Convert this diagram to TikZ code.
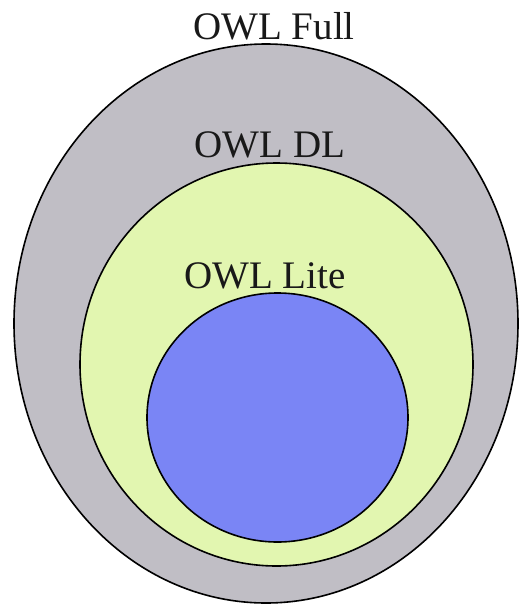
\documentclass[tikz,border=0pt]{standalone}
\usepackage{fontspec}
\setmainfont{Liberation Serif}
\definecolor{fullgray}{RGB}{192,190,197}
\definecolor{dlgreen}{RGB}{226,246,176}
\definecolor{liteblue}{RGB}{122,133,245}
\begin{document}
\begin{tikzpicture}[x=1pt,y=-1pt,
  region/.style={draw=black,line width=1.6pt},
  lbl/.style={inner sep=0pt,anchor=base,font=\fontsize{39}{39}\selectfont,text=black!90}]
\useasboundingbox (0,0) rectangle (522,606);
\fill[white] (0,0) rectangle (522,606);
\draw[region,fill=fullgray] (266,323.5) ellipse [x radius=252,y radius=279.5];
\draw[region,fill=dlgreen] (276.5,364.5) ellipse [x radius=196.5,y radius=201.5];
\draw[region,fill=liteblue] (277.5,417.5) ellipse [x radius=130.5,y radius=124.5];
\node[lbl] (full) at (274,39) {OWL Full};
\node[lbl] (dl) at (270,157) {OWL DL};
\node[lbl] (lite) at (265,288) {OWL Lite};
\end{tikzpicture}
\end{document}
